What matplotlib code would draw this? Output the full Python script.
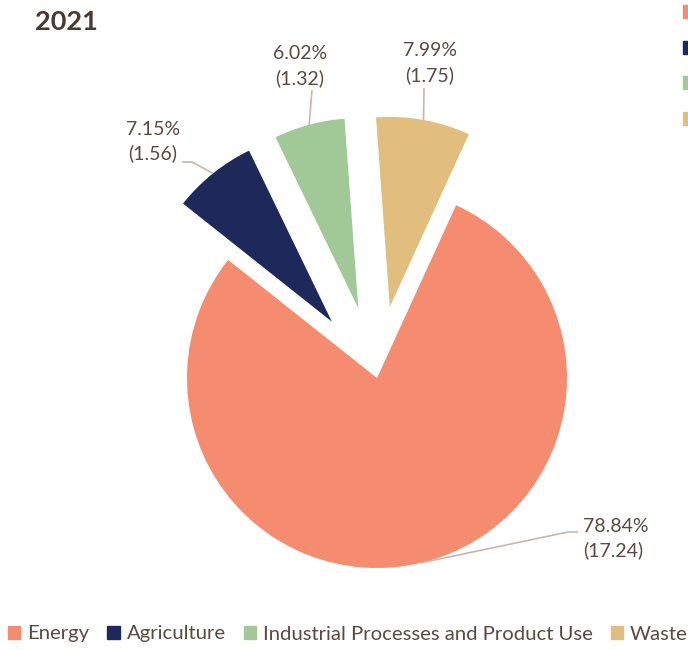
import matplotlib
matplotlib.use("Agg")
import matplotlib.pyplot as plt
import matplotlib.patches as mpatches
import numpy as np

plt.rcParams['font.family'] = ['Lato', 'DejaVu Sans']

# emissions by sector, 2021
sectors = ["Energy", "Agriculture", "Industrial Processes and Product Use", "Waste"]
shares = [78.84, 7.15, 6.02, 7.99]          # percent
amounts = [17.24, 1.56, 1.32, 1.75]         # absolute value shown in brackets
colors = ["#F58C70", "#1F285A", "#A1C897", "#E1BE7E"]

text_col = "#5B4A42"
line_col = "#C9B6AA"

fig = plt.figure(figsize=(6.88, 6.5), dpi=100)
ax = fig.add_axes([0, 0, 1, 1])

center = (377, 272)
radius = 190
explode = [0, 0.38 * radius, 0.38 * radius, 0.38 * radius]

wedges, _ = ax.pie(shares, colors=colors, explode=explode, center=center,
                   radius=radius, startangle=65.4, counterclock=False,
                   wedgeprops=dict(linewidth=0), frame=True)
ax.set_xlim(0, 688)
ax.set_ylim(0, 650)
ax.set_aspect('equal')
ax.axis('off')

# label placement: (elbow point, line end, text point, alignment)
label_layout = [
    ((568, 118), (578, 118), (583, 111.5), 'left'),
    ((192, 488), (182, 488), (153, 508.5), 'center'),
    ((312, 560), (312, 560), (300, 584), 'center'),
    ((424, 562), (424, 562), (430, 587), 'center'),
]

for w, pct, amt, (elbow, end, txt, ha) in zip(wedges, shares, amounts, label_layout):
    mid = np.deg2rad((w.theta1 + w.theta2) / 2)
    cx, cy = w.center
    x0 = cx + w.r * np.cos(mid)
    y0 = cy + w.r * np.sin(mid)
    ax.plot([x0, elbow[0], end[0]], [y0, elbow[1], end[1]],
            color=line_col, lw=1.2, solid_capstyle='butt')
    ax.text(txt[0], txt[1], f"{pct:.2f}%\n({amt:.2f})", ha=ha, va='center',
            fontsize=14, color=text_col, linespacing=1.45)

fig.text(35 / 688, 1 - 22 / 650, "2021", fontsize=19.5, fontweight='bold',
         color="#4A3A30", va='center', ha='left')

handles = [mpatches.Patch(color=c, label=s) for c, s in zip(colors, sectors)]

leg = fig.legend(handles=handles, loc='center left',
                 bbox_to_anchor=(8 / 688, 16 / 650),
                 ncol=4, frameon=False, fontsize=14.6, handlelength=0.6,
                 handleheight=0.6, handletextpad=0.34, columnspacing=0.9,
                 borderpad=0, borderaxespad=0)
for t in leg.get_texts():
    t.set_color(text_col)

# colour keys only, at the right edge
keys = [mpatches.Patch(color=c) for c in colors]
leg2 = fig.legend(keys, [""] * len(keys), loc='upper left',
                  bbox_to_anchor=(683 / 688, 1 - 4 / 650), frameon=False,
                  fontsize=14, handlelength=0.65, handleheight=0.65,
                  labelspacing=0.97, borderpad=0, borderaxespad=0)

fig.savefig("out.png", dpi=100)
